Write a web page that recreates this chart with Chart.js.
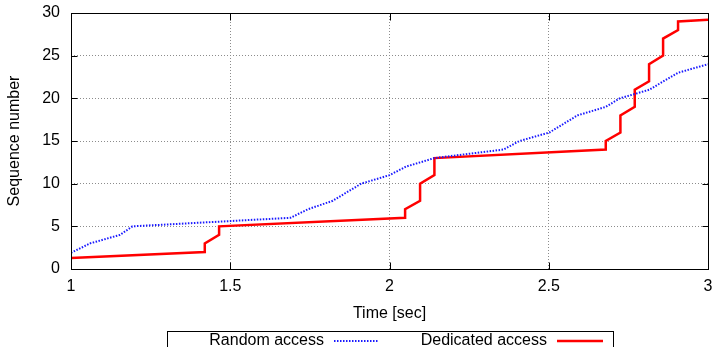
<!DOCTYPE html>
<html>
<head>
<meta charset="utf-8">
<script src="https://cdn.jsdelivr.net/npm/chart.js@4.4.1/dist/chart.umd.min.js"></script>
<style>
  html, body { margin: 0; padding: 0; background: #fff; }
</style>
</head>
<body>
<canvas id="seqChart" width="714" height="347"></canvas>
<script>
// Random access (blue dotted)
const randomTime = [1.0, 1.06, 1.154, 1.193, 1.689, 1.744, 1.822, 1.911, 2.0, 2.052, 2.141, 2.358, 2.408, 2.502, 2.59, 2.679, 2.723, 2.815, 2.906, 3.0];
const randomSeq = [1.9, 3, 4, 5, 6, 7, 8, 10, 11, 12, 13, 14, 15, 16, 18, 19, 20, 21, 23, 24];

// Dedicated access (red solid, steps)
const dedicatedTime = [1.0, 1.42, 1.42, 1.465, 1.465, 2.049, 2.049, 2.096, 2.096, 2.141, 2.141, 2.679, 2.679, 2.725, 2.725, 2.77, 2.77, 2.815, 2.815, 2.859, 2.859, 2.906, 2.906, 3.0];
const dedicatedSeq = [1.3, 2, 3, 4, 5, 6, 7, 8, 10, 11, 13, 14, 15, 16, 18, 19, 21, 22, 24, 25, 27, 28, 29, 29.2];

const timeTicks = [1, 1.5, 2, 2.5, 3];
const seqTicks = [0, 5, 10, 15, 20, 25, 30];
const seriesLabels = ['Random access', 'Dedicated access'];
const xTitle = 'Time [sec]';
const yTitle = 'Sequence number';

const FONT = { family: "'Liberation Sans', Arial, sans-serif", size: 16 };
const GRID = '#8c8c8c';

const toPoints = (xs, ys) => xs.map((x, i) => ({ x: x, y: ys[i] }));

function edgeColor(ticks) {
  return ctx => {
    const v = ctx.tick ? ctx.tick.value : null;
    return (v === ticks[0] || v === ticks[ticks.length - 1]) ? 'rgba(0,0,0,0)' : GRID;
  };
}

// black frame with small inward tics on all four sides
const framePlugin = {
  id: 'frame',
  afterDatasetsDraw(chart) {
    const { ctx, chartArea: a, scales } = chart;
    const l = Math.round(a.left) + 0.5, r = Math.round(a.right) + 0.5;
    const t = Math.round(a.top) + 0.5, b = Math.round(a.bottom) + 0.5;
    ctx.save();
    ctx.strokeStyle = '#000';
    ctx.lineWidth = 1;
    ctx.strokeRect(l, t, r - l, b - t);
    ctx.beginPath();
    timeTicks.forEach(v => {
      const x = Math.round(scales.x.getPixelForValue(v)) + 0.5;
      ctx.moveTo(x, b); ctx.lineTo(x, b - 7);
      ctx.moveTo(x, t); ctx.lineTo(x, t + 7);
    });
    seqTicks.forEach(v => {
      const y = Math.round(scales.y.getPixelForValue(v)) + 0.5;
      ctx.moveTo(l, y); ctx.lineTo(l + 6, y);
      ctx.moveTo(r, y); ctx.lineTo(r - 6, y);
    });
    ctx.stroke();
    ctx.restore();
  }
};

// gnuplot style key: text, then line sample, inside a box
const keyPlugin = {
  id: 'gnukey',
  afterDraw(chart) {
    const { ctx } = chart;
    ctx.save();
    ctx.strokeStyle = '#000';
    ctx.lineWidth = 1;
    ctx.strokeRect(167.5, 331.5, 446, 40);
    ctx.font = `${FONT.size}px ${FONT.family}`;
    ctx.fillStyle = '#000';
    ctx.textAlign = 'right';
    ctx.textBaseline = 'alphabetic';
    const slots = [{ textX: 324, x0: 334, x1: 379 }, { textX: 547, x0: 557, x1: 603 }];
    chart.data.datasets.forEach((ds, i) => {
      const s = slots[i];
      ctx.fillText(ds.label, s.textX, 345);
      ctx.beginPath();
      ctx.strokeStyle = ds.borderColor;
      ctx.lineWidth = ds.borderWidth;
      ctx.setLineDash(ds.borderDash || []);
      ctx.moveTo(s.x0, 341);
      ctx.lineTo(s.x1, 341);
      ctx.stroke();
      ctx.setLineDash([]);
    });
    ctx.restore();
  }
};

new Chart(document.getElementById('seqChart'), {
  type: 'scatter',
  data: {
    datasets: [
      {
        label: seriesLabels[0],
        data: toPoints(randomTime, randomSeq),
        showLine: true,
        borderColor: '#1a1aff',
        borderWidth: 2,
        borderDash: [1.5, 1.5],
        pointRadius: 0,
        tension: 0
      },
      {
        label: seriesLabels[1],
        data: toPoints(dedicatedTime, dedicatedSeq),
        showLine: true,
        borderColor: '#ff0000',
        borderWidth: 2.5,
        pointRadius: 0,
        tension: 0
      }
    ]
  },
  options: {
    responsive: false,
    animation: false,
    layout: { padding: { left: 0, top: 13, right: 6, bottom: 0 } },
    plugins: { legend: { display: false }, tooltip: { enabled: false } },
    scales: {
      x: {
        type: 'linear',
        min: 1,
        max: 3,
        afterBuildTicks: s => { s.ticks = timeTicks.map(v => ({ value: v })); },
        afterFit: s => { s.height = 78; s.paddingLeft = 0; s.paddingRight = 0; },
        ticks: { font: FONT, color: '#000', padding: 8, maxRotation: 0, callback: v => String(v) },
        grid: { drawTicks: false, color: edgeColor(timeTicks), lineWidth: 1 },
        border: { display: false, dash: [1, 2] },
        title: { display: true, text: xTitle, font: FONT, color: '#000', padding: { top: 0, bottom: 24 } }
      },
      y: {
        type: 'linear',
        min: 0,
        max: 30,
        afterBuildTicks: s => { s.ticks = seqTicks.map(v => ({ value: v })); },
        afterFit: s => { s.width = 71; s.paddingTop = 0; s.paddingBottom = 0; },
        ticks: { font: FONT, color: '#000', padding: 11, callback: v => String(v) },
        grid: { drawTicks: false, color: edgeColor(seqTicks), lineWidth: 1 },
        border: { display: false, dash: [1, 2] },
        title: { display: true, text: yTitle, font: FONT, color: '#000', padding: { top: 5, bottom: 0 } }
      }
    }
  },
  plugins: [framePlugin, keyPlugin]
});
</script>
</body>
</html>
